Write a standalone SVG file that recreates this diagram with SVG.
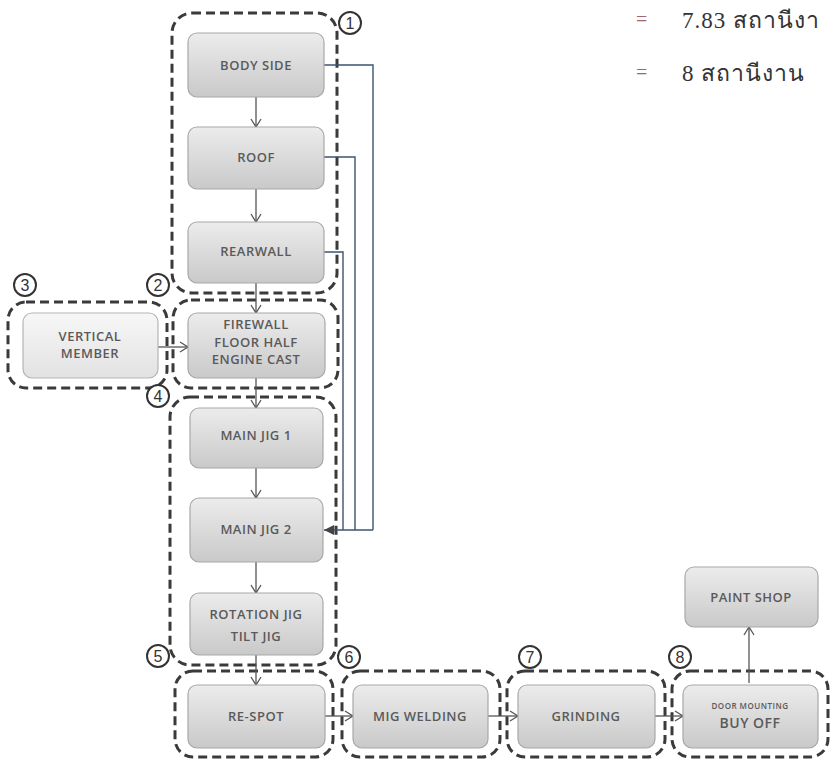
<svg xmlns="http://www.w3.org/2000/svg" width="830" height="761" viewBox="0 0 830 761">
<defs>
<linearGradient id="g" x1="0" y1="0" x2="0" y2="1">
<stop offset="0" stop-color="#ececec"/><stop offset="1" stop-color="#c9c9c9"/>
</linearGradient>
<linearGradient id="gl" x1="0" y1="0" x2="0" y2="1">
<stop offset="0" stop-color="#f7f7f7"/><stop offset="1" stop-color="#e2e2e2"/>
</linearGradient>
<marker id="av" markerWidth="12" markerHeight="12" refX="10" refY="6" orient="auto" markerUnits="userSpaceOnUse">
<path d="M2,1 L10,6 L2,11" fill="none" stroke="#555" stroke-width="1.3"/>
</marker>
<marker id="af" markerWidth="12" markerHeight="12" refX="10" refY="6" orient="auto" markerUnits="userSpaceOnUse">
<path d="M0,1 L10,6 L0,11 Z" fill="#444"/>
</marker>
</defs>
<style>
.box{fill:url(#g);stroke:#a8a8a8;stroke-width:1.2}
.boxl{fill:url(#gl);stroke:#b5b5b5;stroke-width:1.2}
.t{font-family:"Open Sans",sans-serif;font-size:13px;font-weight:600;fill:#5a5a5a;text-anchor:middle;letter-spacing:0.5px}
.grp{fill:none;stroke:#3a3a3a;stroke-width:3;stroke-dasharray:9 5}
.cir{fill:#fff;stroke:#333;stroke-width:2}
.n{font-family:"Liberation Sans",sans-serif;font-size:16px;fill:#333;text-anchor:middle}
.c{fill:none;stroke:#555;stroke-width:1.3}
.cb{fill:none;stroke:#3d5470;stroke-width:1.4}
.th{font-family:"Liberation Serif","Noto Sans","DejaVu Sans",serif;font-size:23px;fill:#333;letter-spacing:1px}
.eq{font-family:"Liberation Serif",serif;font-size:20px;fill:#a0666f}
</style>
<rect width="830" height="761" fill="#fff"/>
<g id="header">
<text class="eq" x="636" y="26">=</text>
<text class="th" x="682" y="28">7.83 สถานีงา</text>
<text class="eq" x="636" y="79">=</text>
<text class="th" x="682" y="81">8 สถานีงาน</text>
</g>
<g id="group1"><rect class="grp" x="172" y="13" width="165" height="280" rx="20"/><circle class="cir" cx="350" cy="23" r="11"/><text class="n" x="350" y="29">1</text></g>
<g id="group2"><rect class="grp" x="173" y="300" width="165" height="88" rx="18"/><circle class="cir" cx="158" cy="285" r="11"/><text class="n" x="158" y="291">2</text></g>
<g id="group3"><rect class="grp" x="8" y="302" width="159" height="86" rx="18"/><circle class="cir" cx="25" cy="285" r="11"/><text class="n" x="25" y="291">3</text></g>
<g id="group4"><rect class="grp" x="170" y="397" width="166" height="268" rx="20"/><circle class="cir" cx="158" cy="396" r="11"/><text class="n" x="158" y="402">4</text></g>
<g id="group5"><rect class="grp" x="175" y="671" width="158" height="86" rx="18"/><circle class="cir" cx="158" cy="656" r="11"/><text class="n" x="158" y="662">5</text></g>
<g id="group6"><rect class="grp" x="342" y="671" width="158" height="86" rx="18"/><circle class="cir" cx="349" cy="657" r="11"/><text class="n" x="349" y="663">6</text></g>
<g id="group7"><rect class="grp" x="507" y="671" width="158" height="86" rx="18"/><circle class="cir" cx="530" cy="657" r="11"/><text class="n" x="530" y="663">7</text></g>
<g id="group8"><rect class="grp" x="672" y="671" width="156" height="86" rx="18"/><circle class="cir" cx="680" cy="657" r="11"/><text class="n" x="680" y="663">8</text></g>
<g id="connectors">
<path class="c" d="M256,97 V127" marker-end="url(#av)"/>
<path class="c" d="M256,189 V222" marker-end="url(#av)"/>
<path class="c" d="M256,283 V313" marker-end="url(#av)"/>
<path class="c" d="M158,347 H188" marker-end="url(#av)"/>
<path class="c" d="M256,378 V408" marker-end="url(#av)"/>
<path class="c" d="M256,468 V498" marker-end="url(#av)"/>
<path class="c" d="M256,562 V593" marker-end="url(#av)"/>
<path class="c" d="M256,655 V685" marker-end="url(#av)"/>
<path class="c" d="M325,716 H353" marker-end="url(#av)"/>
<path class="c" d="M488,716 H518" marker-end="url(#av)"/>
<path class="c" d="M655,716 H683" marker-end="url(#av)"/>
<path class="c" d="M749,683 V627" marker-end="url(#av)"/>
<path class="cb" d="M324,65 H373 V530"/>
<path class="cb" d="M324,157 H355 V530"/>
<path class="cb" d="M324,252 H343 V530"/>
<path class="cb" d="M373,530 H324" marker-end="url(#af)"/>
</g>
<g id="body-side"><rect class="box" x="188" y="33" width="136" height="64" rx="9"/><text class="t" x="256" y="70">BODY SIDE</text></g>
<g id="roof"><rect class="box" x="188" y="127" width="136" height="62" rx="9"/><text class="t" x="256" y="162">ROOF</text></g>
<g id="rearwall"><rect class="box" x="188" y="222" width="136" height="61" rx="9"/><text class="t" x="256" y="256">REARWALL</text></g>
<g id="vertical-member"><rect class="boxl" x="23" y="313" width="135" height="65" rx="9"/><text class="t" x="90" y="341">VERTICAL</text><text class="t" x="90" y="358">MEMBER</text></g>
<g id="firewall"><rect class="box" x="188" y="313" width="137" height="65" rx="9"/><text class="t" x="256" y="329">FIREWALL</text><text class="t" x="256" y="347">FLOOR HALF</text><text class="t" x="256" y="364">ENGINE CAST</text></g>
<g id="main-jig-1"><rect class="box" x="190" y="408" width="133" height="60" rx="9"/><text class="t" x="256" y="440">MAIN JIG 1</text></g>
<g id="main-jig-2"><rect class="box" x="190" y="498" width="133" height="64" rx="9"/><text class="t" x="256" y="534">MAIN JIG 2</text></g>
<g id="rotation-jig"><rect class="box" x="190" y="593" width="133" height="62" rx="9"/><text class="t" x="256" y="619">ROTATION JIG</text><text class="t" x="256" y="641">TILT JIG</text></g>
<g id="re-spot"><rect class="box" x="188" y="685" width="137" height="63" rx="9"/><text class="t" x="256" y="721">RE-SPOT</text></g>
<g id="mig-welding"><rect class="box" x="353" y="685" width="135" height="63" rx="9"/><text class="t" x="420" y="721">MIG WELDING</text></g>
<g id="grinding"><rect class="box" x="518" y="685" width="137" height="63" rx="9"/><text class="t" x="586" y="721">GRINDING</text></g>
<g id="buy-off"><rect class="box" x="683" y="685" width="135" height="63" rx="9"/><text class="t" x="750" y="709" style="font-size:8px">DOOR MOUNTING</text><text class="t" x="750" y="728" style="font-size:14px">BUY OFF</text></g>
<g id="paint-shop"><rect class="box" x="685" y="567" width="133" height="60" rx="9"/><text class="t" x="751" y="602">PAINT SHOP</text></g>
</svg>
